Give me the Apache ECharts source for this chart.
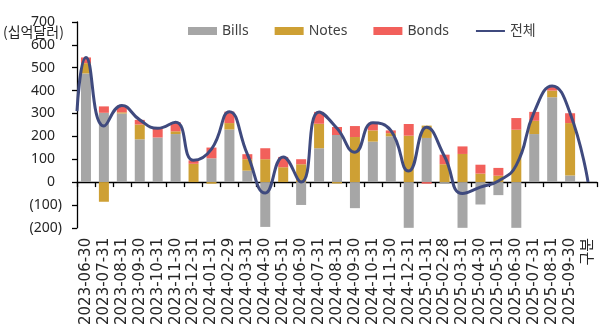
<!DOCTYPE html>
<html>
<head>
<meta charset="utf-8">
<script src="https://cdn.jsdelivr.net/npm/echarts@6/dist/echarts.min.js"></script>
<style>
  html, body { margin: 0; padding: 0; background: #fff; }
  #chart { width: 609px; height: 328px; }
</style>
</head>
<body>
<div id="chart"></div>
<script>
// Month-end dates, plus the trailing header column
const categories = [
  '2023-06-30','2023-07-31','2023-08-31','2023-09-30','2023-10-31','2023-11-30',
  '2023-12-31','2024-01-31','2024-02-29','2024-03-31','2024-04-30','2024-05-31',
  '2024-06-30','2024-07-31','2024-08-31','2024-09-30','2024-10-31','2024-11-30',
  '2024-12-31','2025-01-31','2025-02-28','2025-03-31','2025-04-30','2025-05-31',
  '2025-06-30','2025-07-31','2025-08-31','2025-09-30','구분'
];

// Net issuance by instrument (십억달러)
const bills = [475, 303, 300, 187, 195, 210, 0, 104, 230, 50, -196, 0,
               -100, 148, 206, -114, 177, 200, -206, 193, -8, -206, -98, -57,
               -206, 210, 371, 29];
const notes = [45, -86, 5, 65, 0, 12, 80, -7, 28, 50, 100, 65,
               78, 107, -6, 197, 49, 14, 203, 54, 78, 123, 37, 28,
               229, 58, 29, 229];
const bonds = [25, 28, 30, 20, 40, 40, 15, 47, 50, 22, 48, 45,
               22, 52, 35, 48, 33, 12, 51, -7, 42, 33, 39, 34,
               51, 39, 20, 43];

// Total line: opening value at the left edge, then one value per column
const totalStart = 310;
const total = [545, 245, 335, 272, 235, 262, 95, 144, 308, 122, -48, 110,
               0, 307, 235, 131, 259, 226, 48, 240, 112, -50, -22, 5,
               74, 307, 420, 301, 0];

// Y axis ticks
const yMin = -200, yMax = 700, yStep = 100;

const C_BILLS = '#A6A6A6';
const C_NOTES = '#CEA034';
const C_BONDS = '#F2605B';
const C_TOTAL = '#3F4A7E';
const TXT = '#262626';

const linePoints = [[0, totalStart]].concat(total.map((v, i) => [i + 0.5, v]));

const chart = echarts.init(document.getElementById('chart'), null, { renderer: 'canvas' });

chart.setOption({
  animation: false,
  backgroundColor: '#ffffff',
  textStyle: { fontFamily: 'Noto Sans, DejaVu Sans, sans-serif' },
  grid: { left: 77, right: 12, top: 22, bottom: 99, containLabel: false },
  legend: {
    top: 19,
    left: 183,
    itemWidth: 29,
    itemHeight: 8,
    itemGap: 26,
    textStyle: { fontSize: 14, color: '#404040', fontFamily: 'Noto Sans, Noto Sans CJK KR, sans-serif' },
    data: [
      { name: 'Bills', icon: 'rect' },
      { name: 'Notes', icon: 'rect' },
      { name: 'Bonds', icon: 'rect' },
      { name: '전체', itemStyle: { color: 'rgba(0,0,0,0)', borderWidth: 0, opacity: 0 } }
    ]
  },
  graphic: [{
    type: 'text',
    left: 3,
    top: 25,
    style: {
      text: '(십억달러)',
      fill: TXT,
      font: '14px "Noto Sans CJK KR", sans-serif'
    }
  }],
  xAxis: [
    {
      // zero line with boundary ticks
      type: 'category',
      data: categories,
      position: 'bottom',
      axisLine: { onZero: true, lineStyle: { color: '#000', width: 1.3 } },
      axisTick: { show: true, interval: 0, length: 5, lineStyle: { color: '#000', width: 1.3 } },
      axisLabel: { show: false },
      splitLine: { show: false }
    },
    {
      // date labels along the bottom
      type: 'category',
      data: categories,
      position: 'bottom',
      axisLine: { show: false, onZero: false },
      axisTick: { show: false },
      axisLabel: {
        interval: 0,
        rotate: 90,
        margin: 10,
        fontSize: 15,
        color: TXT,
        fontFamily: 'DejaVu Sans, Noto Sans CJK KR, sans-serif'
      },
      splitLine: { show: false }
    },
    {
      // continuous positions for the total line
      type: 'value',
      min: 0,
      max: categories.length,
      show: false
    }
  ],
  yAxis: {
    type: 'value',
    min: yMin,
    max: yMax,
    interval: yStep,
    axisLine: { show: true, lineStyle: { color: '#000', width: 1.3 } },
    axisTick: { show: true, length: 5, lineStyle: { color: '#000', width: 1.3 } },
    splitLine: { show: false },
    axisLabel: {
      margin: 15,
      fontSize: 14,
      color: TXT,
      formatter: v => v < 0 ? '(' + Math.abs(v) + ')' : '{p|' + v + '}',
      rich: { p: { padding: [0, 7, 0, 0], fontSize: 14, color: TXT } }
    }
  },
  series: [
    {
      name: 'Bills', type: 'bar', stack: 'amt', xAxisIndex: 0,
      barWidth: 10, data: bills, itemStyle: { color: C_BILLS }
    },
    {
      name: 'Notes', type: 'bar', stack: 'amt', xAxisIndex: 0,
      barWidth: 10, data: notes, itemStyle: { color: C_NOTES }
    },
    {
      name: 'Bonds', type: 'bar', stack: 'amt', xAxisIndex: 0,
      barWidth: 10, data: bonds, itemStyle: { color: C_BONDS }
    },
    {
      name: '전체', type: 'line', xAxisIndex: 2,
      data: linePoints,
      smooth: 0.5,
      symbol: 'none',
      lineStyle: { color: C_TOTAL, width: 3 },
      itemStyle: { color: C_TOTAL },
      z: 5
    }
  ]
});
</script>
</body>
</html>
